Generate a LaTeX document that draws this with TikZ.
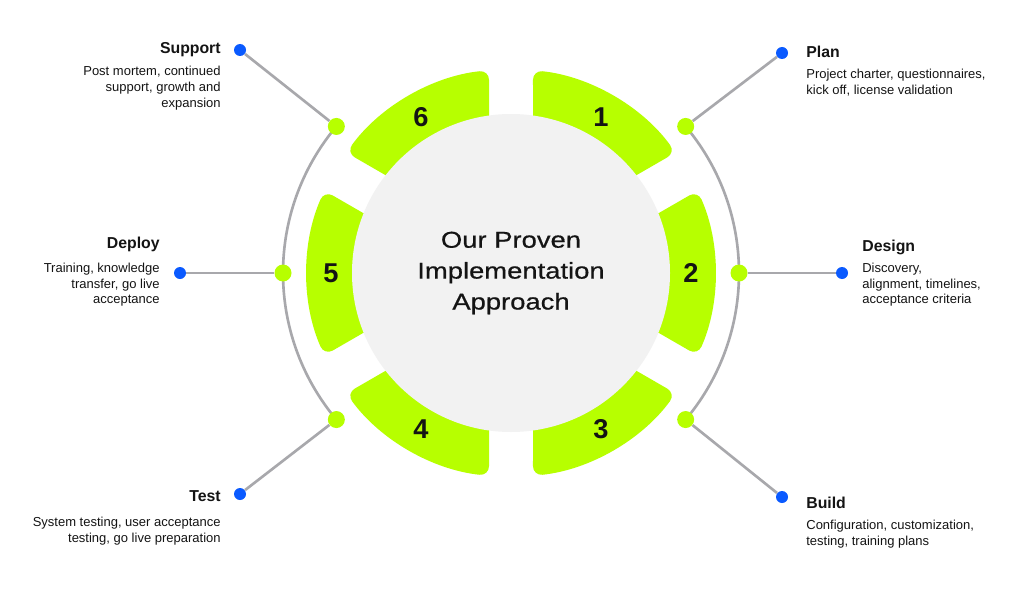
\documentclass[tikz,border=0pt]{standalone}
\usepackage{fontspec}
\setmainfont{Liberation Sans}
\newfontfamily\titlefont[FakeStretch=1.2,FakeBold=0.6]{Liberation Sans}
\usetikzlibrary{calc}
\definecolor{lime}{RGB}{183,255,0}
\definecolor{disc}{RGB}{242,242,242}
\definecolor{ring}{RGB}{168,168,172}
\definecolor{bluedot}{RGB}{10,90,255}
\definecolor{ink}{RGB}{20,20,20}
\begin{document}
\begin{tikzpicture}[x=0.02cm,y=0.02cm,
  seg/.style={fill=lime,rounded corners=5.5pt},
  gdot/.style={circle,fill=lime,inner sep=0pt,minimum size=17*0.02cm},
  bdot/.style={circle,fill=bluedot,inner sep=0pt,minimum size=12*0.02cm},
  ringline/.style={draw=ring,line width=1.5pt},
  num/.style={font=\fontsize{15.5}{18}\selectfont\bfseries,inner sep=0pt,text=ink},
  head/.style={font=\fontsize{9}{11}\selectfont\bfseries,inner sep=0pt,text=ink},
  body/.style={font=\fontsize{7.4}{9}\selectfont,inner sep=0pt,text=ink}]
\useasboundingbox (0,0) rectangle (1024,603);
\fill[white] (0,0) rectangle (1024,603);
\coordinate (C) at (511,330);
\begin{scope}[shift={(C)}]
\foreach \t/\n in {60/1,0/2,-60/3,-120/4,180/5,120/6}{
  \fill[seg] (\t-30+9.04:140) -- (\t-30+6.19:204)
    arc[start angle=\t-30+6.19, end angle=\t+30-6.19, radius=204]
    -- (\t+30-9.04:140) -- cycle;
}
\fill[disc] (0,0) circle[radius=159];
\draw[ringline] (40:228) arc[start angle=40, end angle=-40, radius=228];
\draw[ringline] (140:228) arc[start angle=140, end angle=220, radius=228];
\foreach \t/\n in {60/1,0/2,-60/3,-120/4,180/5,120/6}{
  \node[num] (n\n) at (\t:180) {\n};
}
\node[gdot] (gplan) at (40:228) {};
\node[gdot] (gdesign) at (0:228) {};
\node[gdot] (gbuild) at (-40:228) {};
\node[gdot] (gsupport) at (140:228) {};
\node[gdot] (gdeploy) at (180:228) {};
\node[gdot] (gtest) at (220:228) {};
\node[align=center,inner sep=0pt,text=ink,font=\titlefont\fontsize{13}{17.6}\selectfont] (title) at (0,0)
  {Our Proven\\Implementation\\Approach};
\end{scope}
\node[bdot] (bplan) at (782,550) {};
\node[bdot] (bdesign) at (842,330) {};
\node[bdot] (bbuild) at (782,106) {};
\node[bdot] (bsupport) at (240,553) {};
\node[bdot] (bdeploy) at (180,330) {};
\node[bdot] (btest) at (240,109) {};
\foreach \a in {plan,design,build,support,deploy,test}{
  \draw[ringline] (g\a) -- (b\a);
}
\node[head,anchor=base west] (hplan) at (806,545) {Plan};
\node[body,anchor=north west,align=left] (tplan) at (806,534.5) {Project charter, questionnaires,\\kick off, license validation};
\node[head,anchor=base west] (hdesign) at (862,352) {Design};
\node[body,anchor=north west,align=left] (tdesign) at (862,340.5) {Discovery,\\alignment, timelines,\\acceptance criteria};
\node[head,anchor=base west] (hbuild) at (806,95) {Build};
\node[body,anchor=north west,align=left] (tbuild) at (806,83.5) {Configuration, customization,\\testing, training plans};
\node[head,anchor=base east] (hsupport) at (221,549) {Support};
\node[body,anchor=north east,align=right] (tsupport) at (221,537) {Post mortem, continued\\support, growth and\\expansion};
\node[head,anchor=base east] (hdeploy) at (160,355) {Deploy};
\node[body,anchor=north east,align=right] (tdeploy) at (160,340.5) {Training, knowledge\\transfer, go live\\acceptance};
\node[head,anchor=base east] (htest) at (221,102) {Test};
\node[body,anchor=north east,align=right] (ttest) at (221,86) {System testing, user acceptance\\testing, go live preparation};
\end{tikzpicture}
\end{document}
